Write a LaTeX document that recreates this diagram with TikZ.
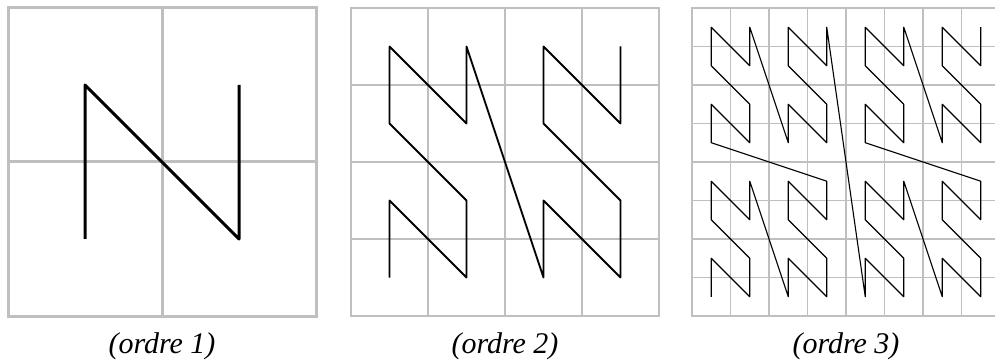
\documentclass[tikz,border=0pt]{standalone}
\usepackage{fontspec}
\setmainfont{Liberation Serif}
\usepackage{tikz}

\begin{document}
\begin{tikzpicture}[x=1pt, y=-1pt,
      grille/.style={draw=black!25, line cap=rect},
      courbe/.style={draw=black, line join=round},
      legende/.style={font=\fontsize{30}{36}\selectfont\itshape, anchor=base}
    ]
      \useasboundingbox (0,0) rectangle (995,363);
      \foreach \n/\xo/\gw/\cw in {1/8/3/3, 2/351/2/1.8, 3/692/1.2/1.1}{
        \pgfmathtruncatemacro{\nb}{2^\n}
        \pgfmathsetmacro{\cel}{308/\nb}
        \pgfmathtruncatemacro{\dernier}{4^\n-1}
        % grille
        \foreach \k in {0,...,\nb}{
          \draw[grille, line width=\gw pt] (\xo+\k*\cel,8) -- (\xo+\k*\cel,316);
          \draw[grille, line width=\gw pt] (\xo,8+\k*\cel) -- (\xo+308,8+\k*\cel);
        }
        % courbe
        \draw[courbe, line width=\cw pt] plot[samples at={0,...,\dernier}, variable=\i]
          ({\xo+(mod(floor(\i/2),2)+2*mod(floor(\i/8),2)+4*mod(floor(\i/32),2)+0.5)*\cel},
           {316-(mod(\i,2)+2*mod(floor(\i/4),2)+4*mod(floor(\i/16),2)+0.5)*\cel});
        \node[legende] (ordre\n) at (\xo+154,353.5) {(ordre \n)};
      }
    \end{tikzpicture}
\end{document}
